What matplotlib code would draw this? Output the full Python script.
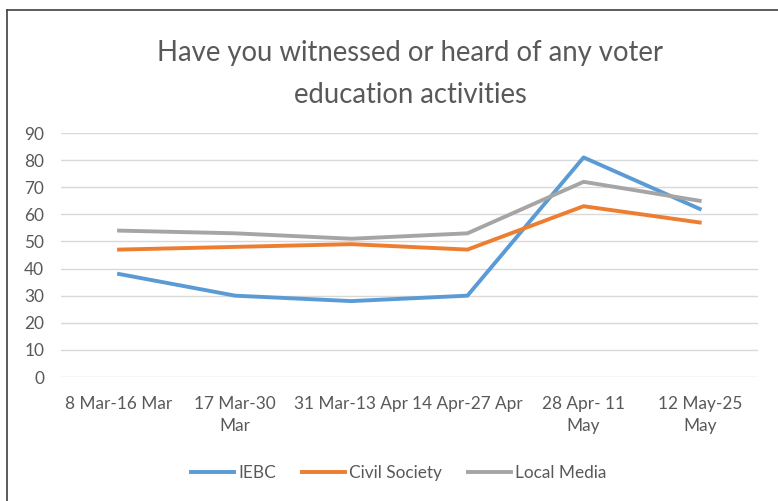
import matplotlib.pyplot as plt
from matplotlib.lines import Line2D

periods = ["8 Mar-16 Mar", "17 Mar-30\nMar", "31 Mar-13 Apr", "14 Apr-27 Apr",
           "28 Apr- 11\nMay", "12 May-25\nMay"]
iebc = [38, 30, 28, 30, 81, 62]
civil_society = [47, 48, 49, 47, 63, 57]
local_media = [54, 53, 51, 53, 72, 65]

plt.rcParams['font.family'] = ['Lato', 'DejaVu Sans']
text_col = '#595959'

fig = plt.figure(figsize=(7.78, 5.01), dpi=100)
ax = fig.add_axes([0.0784, 0.2475, 0.8956, 0.487])

x = range(len(periods))
ax.plot(x, iebc, color='#5B9BD5', lw=2.8, label='IEBC')
ax.plot(x, civil_society, color='#ED7D31', lw=2.8, label='Civil Society')
ax.plot(x, local_media, color='#A5A5A5', lw=2.8, label='Local Media')

ax.set_xlim(-0.5, len(periods) - 0.5)
ax.set_ylim(0, 90)
ax.set_yticks(range(0, 91, 10))
ax.set_xticks(list(x))
ax.set_xticklabels(periods, linespacing=1.45)
ax.grid(axis='y', color='#D9D9D9', lw=1)
ax.set_axisbelow(True)
for s in ax.spines.values():
    s.set_visible(False)
ax.tick_params(length=0, colors=text_col, labelsize=12.4)
ax.tick_params(axis='x', pad=14)
ax.tick_params(axis='y', pad=12)

fig.text(0.527, 0.852, "Have you witnessed or heard of any voter\neducation activities",
         ha='center', va='center', fontsize=19.8, color=text_col, linespacing=1.75)

ax.legend(loc='center', bbox_to_anchor=(0.485, -0.392), ncol=3, frameon=False,
          fontsize=12.4, labelcolor=text_col, handlelength=2.5, handletextpad=0.25,
          columnspacing=1.5)

# outer frame (left and top edges visible in the reference)
fig.add_artist(Line2D([0.009, 0.009], [0, 0.98], color='#404040', lw=1.2))
fig.add_artist(Line2D([0.009, 1.0], [0.98, 0.98], color='#404040', lw=1.2))

fig.savefig('out.png', dpi=100)
